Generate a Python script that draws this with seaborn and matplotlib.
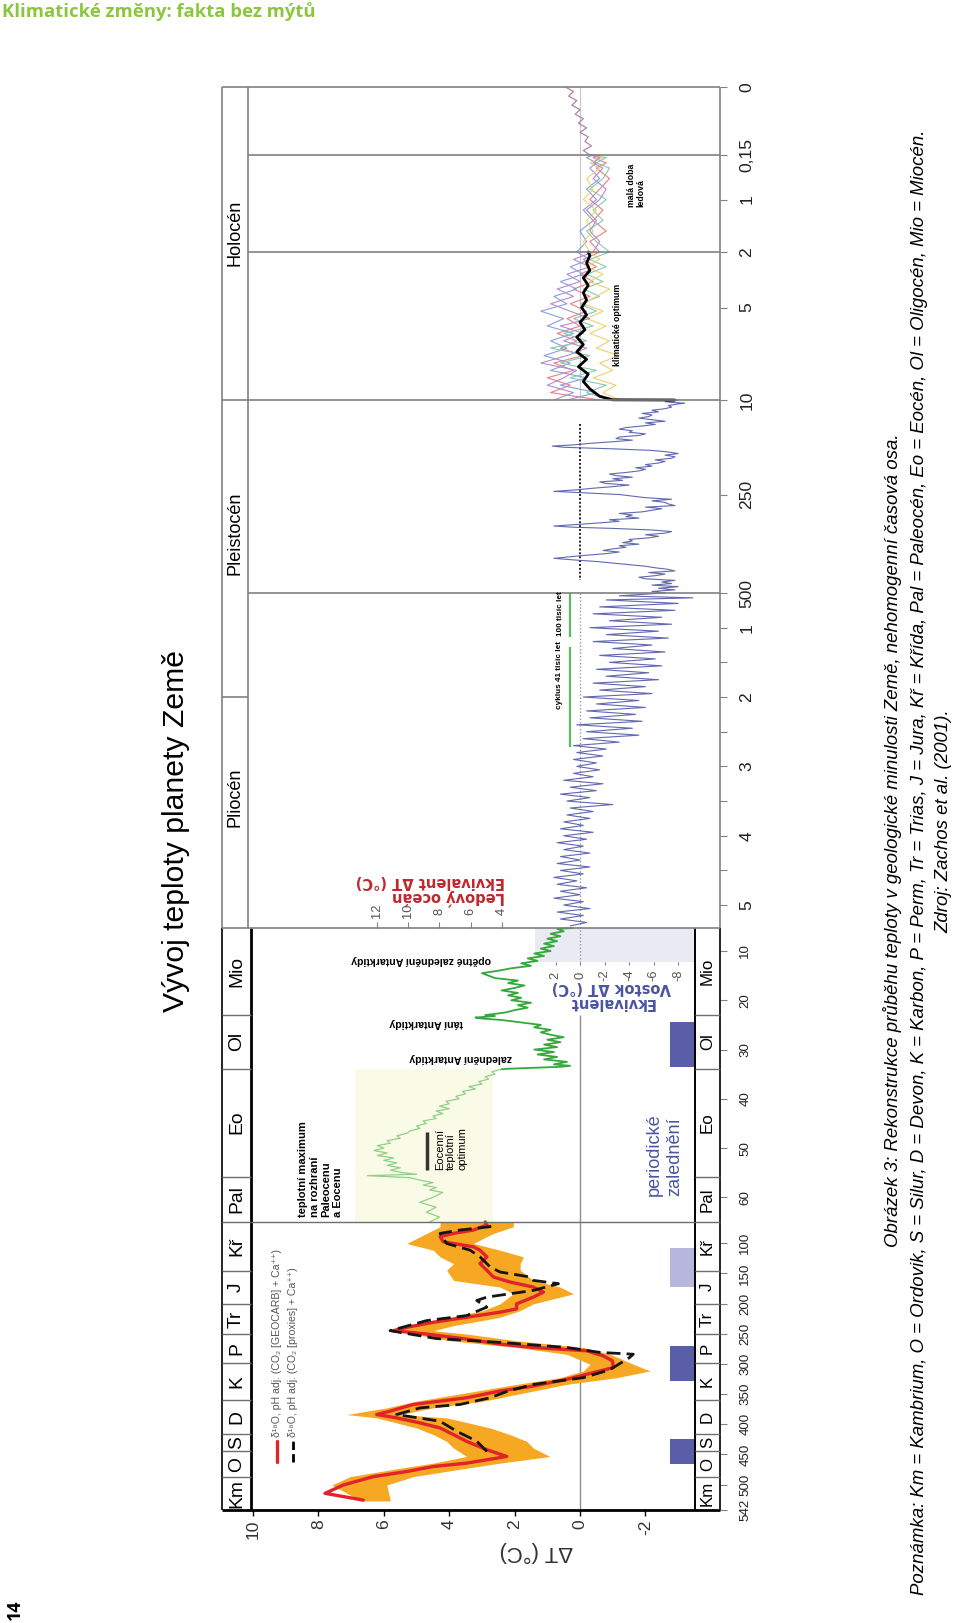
import numpy as np
import matplotlib
matplotlib.use("Agg")
import matplotlib.pyplot as plt
import seaborn as sns
from matplotlib import font_manager

sns.set_theme(style="white")
plt.rcParams["font.family"] = ["Liberation Sans", "DejaVu Sans"]

have = {f.name for f in font_manager.fontManager.ttflist}
if "Liberation Sans Narrow" in have:
    NARROW, K = ["Liberation Sans Narrow", "DejaVu Sans"], 1.0
else:
    NARROW, K = ["Liberation Sans", "DejaVu Sans"], 0.84

# time axis is not homogeneous: age (Ma) -> row of the page
age_breaks = [0, 0.00015, 0.002, 0.010, 0.5, 5.33, 65, 542]
row_breaks = [87, 155, 252, 400, 593, 928, 1222, 1510]

# Phanerozoic (Ma) -- red line (GEOCARB), black dashed (proxies), orange band
phan_age = [525.6, 514.4, 500.6, 486.7, 478.3, 470.0, 464.4, 453.3, 442.2, 428.3,
            417.2, 406.1, 397.8, 389.4, 383.9, 378.3, 367.2, 361.7, 356.1, 345.0,
            336.7, 325.6, 314.4, 306.1, 295.0, 286.7, 278.3, 272.8, 267.2, 258.9,
            250.6, 245.0, 239.4, 231.1, 222.8, 214.4, 208.9, 200.6, 189.4, 181.1,
            172.8, 164.4, 156.1, 145.0, 133.9, 122.8, 111.7, 106.1, 100.6, 97.8,
            89.4, 83.9, 78.3, 70.0, 65.0]
geocarb = [6.63, 7.80, 7.24, 6.32, 5.30, 4.49, 3.47, 2.24, 2.85, 3.47,
           3.87, 4.28, 4.89, 5.61, 6.22, 5.81, 5.10, 4.28, 3.47, 2.45,
           1.43, 0.41, -0.41, -1.02, -0.99, -0.71, -0.20, 1.43, 2.45, 3.47,
           4.69, 5.71, 5.30, 4.49, 3.47, 2.45, 1.94, 1.94, 1.43, 1.12,
           1.43, 2.14, 2.65, 2.85, 3.06, 2.85, 3.06, 3.26, 3.87, 4.18,
           4.28, 3.87, 3.26, 2.85, 2.90]

prox_age = [445, 428, 411.7, 395, 383.9, 372.8, 367.2, 356.1, 345, 334,
            322.8, 310, 300, 290, 284, 281, 272.8, 264.4, 258, 245,
            228.3, 220, 206, 195, 189.4, 178.3, 167.2, 161.7, 156.1, 147.8,
            139.4, 122.8, 111.7, 100.6, 83.9, 78.3, 72.8, 65]
proxies = [2.85, 3.16, 3.77, 4.28, 5.61, 4.89, 3.67, 2.75, 2.20, 1.43,
           -0.10, -0.90, -1.20, -1.50, -1.63, -0.61, 0.41, 2.45, 4.40, 5.81,
           4.69, 3.47, 2.85, 3.16, 2.85, 1.43, 0.66, 1.43, 1.53, 2.45,
           2.75, 3.06, 3.36, 4.08, 4.28, 3.67, 2.75, 2.85]

band_age = [527, 500.6, 486.7, 472.8, 464.4, 453.3, 439.4, 428.3, 417.2, 406.1,
            389.4, 383.9, 372.8, 361.7, 345, 333.9, 322.8, 311.7, 300.6, 284,
            272.8, 261.7, 250.6, 245, 236.7, 222.8, 211.7, 200.6, 183.9, 172.8,
            161.7, 145, 133.9, 122.8, 111.7, 100.6, 92.2, 83.9, 72.8, 65]
band_warm = [6.70, 7.59, 7.03, 5.50, 4.49, 3.47, 3.87, 4.08, 4.49, 5.00,
             6.22, 7.13, 5.91, 5.00, 3.16, 1.94, 0.61, -0.10, -0.31, 0.41,
             1.94, 3.98, 5.10, 5.61, 5.30, 3.98, 2.96, 2.45, 2.04, 2.45,
             3.87, 4.08, 3.87, 4.28, 4.49, 5.30, 5.00, 4.69, 4.28, 4.28]
band_cold = [5.80, 5.91, 5.10, 3.47, 2.45, 0.92, 1.43, 1.63, 2.14, 2.75,
             4.08, 5.50, 4.49, 2.96, 1.43, 0.41, -1.12, -2.14, -1.63, -0.92,
             -0.10, 1.94, 3.47, 4.49, 3.87, 2.45, 1.83, 1.43, 0.20, 0.61,
             1.43, 1.83, 1.83, 1.73, 2.45, 3.26, 2.96, 2.65, 2.04, 2.04]

# Cenozoic deep-sea record (Ma)
paleo_age = [65.0, 64.0, 63.0, 62.0, 61.0, 60.0, 59.0, 58.5, 58.0, 57.5,
             57.0, 56.5, 56.0, 55.6, 55.3, 55.0, 54.5, 54.0, 53.5, 53.0,
             52.5, 52.0, 51.5, 51.0, 50.5, 50.0, 49.5, 49.0, 48.5, 48.0,
             47.5, 47.0, 46.5, 46.0, 45.5, 45.0, 44.5, 44.0, 43.5, 43.0,
             42.5, 42.0, 41.5, 41.0, 40.5, 40.0, 39.5, 39.0, 38.5, 38.0,
             37.5, 37.0, 36.5, 36.0, 35.5, 35.0, 34.5, 34.0]
paleo_dT = [4.6, 4.3, 4.7, 4.4, 4.9, 4.5, 4.2, 4.6, 4.4, 4.8,
            4.5, 4.9, 5.2, 6.5, 5.0, 5.4, 5.8, 5.5, 5.9, 5.6,
            6.0, 5.7, 6.2, 5.9, 6.3, 6.0, 6.2, 5.8, 5.9, 5.5,
            5.6, 5.3, 5.2, 4.9, 5.0, 4.7, 4.8, 4.4, 4.5, 4.2,
            4.4, 4.0, 4.3, 4.0, 4.1, 3.7, 3.8, 3.5, 3.6, 3.2,
            3.4, 3.0, 3.1, 2.8, 2.9, 2.6, 2.7, 2.4]
neo_age = [34.0, 33.9, 33.7, 33.5, 33.3, 33.0, 32.5, 32.0, 31.5, 31.0,
           30.5, 30.0, 29.5, 29.0, 28.5, 28.0, 27.5, 27.0, 26.5, 26.0,
           25.5, 25.0, 24.5, 24.0, 23.7, 23.5, 23.2, 23.0, 22.5, 22.0,
           21.5, 21.0, 20.5, 20.0, 19.5, 19.0, 18.5, 18.0, 17.5, 17.0,
           16.5, 16.0, 15.5, 15.0, 14.5, 14.0, 13.5, 13.0, 12.5, 12.0,
           11.5, 11.0, 10.5, 10.0, 9.5, 9.0, 8.5, 8.0, 7.5, 7.0,
           6.5, 6.0, 5.5, 5.33]
neo_dT = [2.4, 2.2, 1.4, 0.6, 0.3, 0.8, 0.4, 1.1, 0.7, 1.3,
          0.8, 1.4, 0.7, 1.1, 0.6, 1.0, 0.5, 0.9, 1.2, 0.9,
          1.4, 1.2, 1.8, 2.4, 3.0, 3.2, 2.6, 2.9, 2.3, 2.0,
          1.6, 1.9, 1.5, 2.1, 1.8, 2.2, 1.9, 2.4, 2.0, 1.7,
          2.2, 1.9, 2.6, 2.8, 3.0, 2.5, 2.1, 1.5, 1.8, 1.3,
          1.6, 1.1, 1.4, 0.9, 1.2, 0.8, 1.1, 0.7, 1.0, 0.6,
          0.9, 0.5, 0.7, 0.2]

# Pliocene - early Pleistocene (Ma)
plio_age = [5.30, 5.25, 5.20, 5.15, 5.10, 5.05, 5.00, 4.95, 4.90, 4.85,
            4.80, 4.75, 4.70, 4.65, 4.60, 4.55, 4.50, 4.45, 4.40, 4.35,
            4.30, 4.25, 4.20, 4.15, 4.10, 4.05, 4.00, 3.95, 3.90, 3.85,
            3.80, 3.75, 3.70, 3.65, 3.60, 3.55, 3.50, 3.45, 3.40, 3.35,
            3.30, 3.25, 3.20, 3.15, 3.10, 3.05, 3.00, 2.95, 2.90, 2.85,
            2.80, 2.75, 2.70, 2.65, 2.60, 2.55, 2.50, 2.45, 2.40, 2.35,
            2.30, 2.25, 2.20, 2.15, 2.10, 2.05, 2.00, 1.95, 1.90, 1.85,
            1.80, 1.75, 1.70, 1.65, 1.60, 1.55, 1.50, 1.45, 1.40, 1.35,
            1.30, 1.25, 1.20, 1.15, 1.10, 1.05, 1.00, 0.95, 0.90, 0.85,
            0.80, 0.75, 0.70, 0.65, 0.60, 0.57, 0.54, 0.50]
plio_dT = [0.3, -0.2, 0.6, -0.1, 0.7, -0.3, 0.5, -0.1, 0.8, 0.0,
           0.6, -0.2, 0.7, 0.1, 0.8, -0.1, 0.6, -0.3, 0.7, 0.0,
           0.6, -0.3, 0.5, -0.1, 0.7, -0.2, 0.5, -0.4, 0.6, -0.1,
           0.5, -0.3, 0.4, -0.4, 0.3, -1.0, 0.4, -0.3, 0.6, -0.5,
           0.3, -0.7, 0.5, -0.4, 0.2, -0.6, 0.1, -0.5, 0.2, -0.7,
           0.1, -0.8, 0.2, -1.2, -0.1, -1.8, -0.2, -1.6, 0.1, -1.9,
           -0.3, -1.7, -0.2, -2.0, -0.5, -1.8, -0.1, -2.2, -0.6, -2.0,
           -0.4, -2.4, -0.8, -2.1, -0.5, -2.5, -0.9, -2.3, -0.6, -2.6,
           -1.0, -2.2, -0.4, -2.7, -0.8, -2.4, -0.3, -2.8, -0.9, -2.5,
           -0.4, -2.9, -0.6, -3.0, -0.8, -3.45, -1.2, -2.6]

# Vostok, last 500 thousand years (ka)
vostok_ka = [500, 496, 492, 488, 484, 480, 476, 472, 468, 464,
             460, 456, 452, 448, 444, 440, 436, 432, 428, 424,
             420, 416, 412, 408, 404, 400, 396, 392, 388, 384,
             380, 376, 372, 368, 364, 360, 356, 352, 348, 344,
             340, 336, 333, 330, 326, 322, 318, 314, 310, 306,
             302, 298, 294, 290, 286, 282, 278, 274, 270, 266,
             262, 258, 254, 250, 246, 242, 238, 234, 230, 226,
             222, 218, 214, 210, 206, 202, 198, 194, 190, 186,
             182, 178, 174, 170, 166, 162, 158, 154, 150, 146,
             142, 138, 134, 130, 127, 124, 120, 116, 112, 108,
             104, 100, 96, 92, 88, 84, 80, 76, 72, 68,
             64, 60, 56, 52, 48, 44, 40, 36, 32, 28,
             24, 20, 18, 16, 14, 12, 10]
vostok_dT = [-2.6, -2.2, -2.9, -2.4, -3.0, -2.2, -2.8, -2.5, -2.9, -2.0,
             -1.8, -2.3, -2.6, -2.1, -2.9, -2.7, -2.3, -2.0, -1.5, -1.0,
             -0.5, 0.2, 0.8, 0.3, -0.2, -0.8, -1.2, -0.7, -1.0, -1.4,
             -1.2, -1.8, -1.3, -1.6, -1.5, -2.1, -2.4, -2.0, -2.6, -2.8,
             -2.2, -1.0, 0.2, 0.8, 0.1, -0.6, -1.2, -0.9, -1.8, -1.4,
             -1.6, -1.2, -1.9, -2.2, -2.5, -2.0, -2.9, -2.7, -2.6, -2.2,
             -2.8, -2.0, -1.6, -1.2, -0.2, 0.8, 0.1, -0.4, -1.0, -1.5,
             -0.8, -0.6, -1.3, -1.0, -1.6, -1.1, -0.9, -1.4, -1.8, -2.0,
             -1.7, -2.2, -2.0, -2.4, -2.6, -2.3, -2.8, -2.9, -2.6, -3.0,
             -2.7, -2.2, -1.0, 0.5, 0.85, 0.2, -0.3, -1.0, -1.6, -1.1,
             -1.2, -1.8, -2.0, -1.5, -1.6, -1.2, -1.4, -1.9, -2.3, -2.0,
             -2.6, -2.2, -1.8, -2.1, -2.2, -1.9, -2.4, -2.2, -2.6, -2.8,
             -2.7, -3.0, -3.2, -2.8, -2.6, -2.9, -3.0]

# Holocene proxies (ka)
holo_ka = [10.0, 9.6, 9.2, 8.8, 8.4, 8.0, 7.6, 7.2, 6.8, 6.4,
           6.0, 5.6, 5.2, 4.8, 4.4, 4.0, 3.6, 3.2, 2.8, 2.4,
           2.0, 1.8, 1.6, 1.4, 1.2, 1.0, 0.8, 0.6, 0.4, 0.3, 0.2, 0.15]
holo_red = [-0.6, 0.9, 0.3, 1.0, 0.2, 0.8, -0.1, 0.6, 0.1, 0.7,
            0.0, 0.4, -0.2, 0.3, -0.3, 0.2, -0.4, 0.0, -0.5, -0.1,
            -0.6, -0.3, -0.8, -0.4, -0.7, -0.3, -0.6, -0.9, -0.5, -0.8, -0.4, -0.6]
holo_blue = [0.4, -0.5, 0.6, -0.2, 0.9, 0.3, 1.1, 0.4, 0.9, 0.2,
             1.0, 0.5, 1.2, 0.4, 0.8, 0.1, 0.6, -0.1, 0.3, -0.3,
             0.1, -0.2, 0.0, -0.4, -0.1, -0.5, -0.2, -0.6, -0.3, -0.5, -0.2, -0.4]
holo_green = [-0.9, -0.2, -0.8, 0.3, -0.5, 0.6, -0.3, 0.9, -0.2, 0.5,
              -0.4, 0.2, -0.5, 0.0, -0.6, -0.1, -0.7, -0.2, -0.8, -0.3,
              -0.9, -0.5, -0.2, -0.7, -0.4, -0.8, -0.3, -0.7, -0.9, -0.5, -0.8, -0.3]
holo_yellow = [-1.2, -0.7, -1.1, -0.4, -1.0, -0.6, -1.2, -0.5, -0.9, -0.3,
               -0.8, -0.2, -0.7, -0.1, -0.5, -0.9, -0.3, -0.7, -0.2, -0.6,
               -0.3, -0.1, -0.4, -0.2, -0.5, -0.1, -0.4, -0.2, -0.6, -0.3, -0.7, -0.5]
holo_purple = [0.8, 0.2, 1.0, 0.5, 0.1, 1.2, 0.4, -0.2, 0.5, -0.1,
               0.6, -0.3, 0.3, 0.9, 0.2, 0.7, 0.0, 0.4, -0.3, 0.2,
               -0.4, -0.6, -0.3, -0.5, -0.2, -0.6, -0.8, -0.4, -0.7, -0.4, -0.6, -0.3]
holo_mean_ka = [10.0, 9.99, 9.8, 9.4, 9.0, 8.6, 8.2, 7.8, 7.4, 7.0,
                6.6, 6.2, 5.8, 5.4, 5.0, 4.6, 4.2, 3.8, 3.4, 3.0,
                2.6, 2.2, 2.0]
holo_mean = [-2.9, -1.0, -0.6, -0.3, -0.1, -0.25, 0.05, -0.2, 0.1, -0.1,
             0.1, -0.15, 0.0, -0.2, -0.05, -0.2, -0.1, -0.25, -0.1, -0.3,
             -0.2, -0.3, -0.25]
recent_ka = [0.150, 0.140, 0.130, 0.120, 0.110, 0.100, 0.090, 0.080,
             0.070, 0.060, 0.050, 0.040, 0.030, 0.020, 0.010, 0.0]
recent_dT = [-0.3, -0.1, -0.35, -0.15, -0.25, 0.0, -0.2, 0.05,
             -0.1, 0.15, 0.0, 0.25, 0.1, 0.35, 0.2, 0.45]

# geological column
periods = ["Km", "O", "S", "D", "K", "P", "Tr", "J", "Kř", "Pal", "Eo", "Ol", "Mio"]
period_bounds = [542, 488, 444, 416, 359, 299, 251, 200, 146, 65, 55.8, 33.9, 23, 5.33]
epochs = ["Pliocén", "Pleistocén", "Holocén"]

# periodic glaciations (Ma)
glac_old = [465, 328, 173, 33.5]
glac_young = [425, 270, 108, 24.5]
glac_light = [False, False, True, False]

# secondary scales
ocean_ticks = [12, 10, 8, 6, 4]
vostok_ticks = [2, 0, -2, -4, -6, -8]

dT_ticks = [10, 8, 6, 4, 2, 0, -2]
age_ticks = [542, 500, 450, 400, 350, 300, 250, 200, 150, 100,
             60, 50, 40, 30, 20, 10,
             5, 4, 3, 2, 1, 0.5, 0.25, 0.010, 0.005, 0.002, 0.001, 0.00015, 0]
age_labels = ["542", "500", "450", "400", "350", "300", "250", "200", "150", "100",
              "60", "50", "40", "30", "20", "10",
              "5", "4", "3", "2", "1", "500", "250", "10", "5", "2", "1", "0,15", "0"]

RED, ORANGE, BLUE, GRAY = "#e2232a", "#f7a823", "#5058a8", "#808080"
GREEN_L, GREEN_D, BAR, BAR_L = "#8fd18a", "#35a83a", "#5a5ea9", "#b7b7de"


def fwd(t):
    return np.interp(t, age_breaks, row_breaks)


def inv(r):
    return np.interp(r, row_breaks, age_breaks)


def page(px, py):
    # page pixel -> (dT, age) for placing annotations
    return (580 - px) / 32.7, float(inv(py))


fig = plt.figure(figsize=(9.6, 16.23), dpi=100)
ax = fig.add_axes([222 / 960, 1 - 1510 / 1623, 498 / 960, 1423 / 1623])

LEFT, COL, COLU, RCOL, RIGHT = 10.95, 10.06, 10.15, -3.52, -4.28

# background boxes
ax.fill_betweenx([34, 65], 6.88, 2.66, color="#fafbe6", lw=0, zorder=0)
ax.fill_betweenx([5.33, 12.3], 1.38, RCOL, color="#e9eaf3", lw=0, zorder=0)

# zero lines
ax.vlines(0, 23, 542, color="#8c8c8c", lw=1.0, zorder=1)
ax.vlines(0, 0, 0.010, color="#c8c8c8", lw=0.8, zorder=1)
ax.vlines(0, 0.5, 12.3, color="#9a9a9a", lw=1.0, ls=(0, (1, 1.5)), zorder=1)
ax.vlines(0, 0.070, 0.467, color="#222222", lw=1.4, ls=(0, (1, 1)), zorder=1)

# Phanerozoic
ax.fill_betweenx(band_age, band_warm, band_cold, color=ORANGE, lw=0, zorder=2)
sns.lineplot(x=geocarb, y=phan_age, orient="y", sort=False, estimator=None,
             color=RED, lw=2.4, ax=ax, legend=False, zorder=3)
sns.lineplot(x=proxies, y=prox_age, orient="y", sort=False, estimator=None,
             color="#151515", lw=2.0, ls=(0, (5, 2.2)), ax=ax, legend=False, zorder=4)

# Cenozoic
sns.lineplot(x=paleo_dT, y=paleo_age, orient="y", sort=False, estimator=None,
             color=GREEN_L, lw=0.9, ax=ax, legend=False, zorder=3)
sns.lineplot(x=neo_dT, y=neo_age, orient="y", sort=False, estimator=None,
             color=GREEN_D, lw=1.3, ax=ax, legend=False, zorder=3)

# Plio-Pleistocene
sns.lineplot(x=plio_dT, y=plio_age, orient="y", sort=False, estimator=None,
             color=BLUE, lw=0.8, alpha=0.9, ax=ax, legend=False, zorder=3)
sns.lineplot(x=vostok_dT, y=np.array(vostok_ka) / 1000, orient="y", sort=False,
             estimator=None, color=BLUE, lw=0.8, alpha=0.9, ax=ax, legend=False, zorder=3)

# Holocene
holo_age = np.array(holo_ka) / 1000
for vals, c in [(holo_red, "#ee7c84"), (holo_blue, "#8a9ee0"), (holo_green, "#84ccb0"),
                (holo_yellow, "#f0d070"), (holo_purple, "#b08ccc")]:
    sns.lineplot(x=vals, y=holo_age, orient="y", sort=False, estimator=None,
                 color=c, lw=0.8, ax=ax, legend=False, zorder=3)
sns.lineplot(x=recent_dT, y=np.array(recent_ka) / 1000, orient="y", sort=False,
             estimator=None, color="#b084a8", lw=0.9, ax=ax, legend=False, zorder=3)
sns.lineplot(x=holo_mean, y=np.array(holo_mean_ka) / 1000, orient="y", sort=False,
             estimator=None, color="black", lw=2.0, ax=ax, legend=False, zorder=4)

# orbital cycles markers
ax.vlines(0.31, 1.28, 2.72, color="#5cb85c", lw=1.6, zorder=3)
ax.vlines(0.31, 0.5, 1.14, color="#5cb85c", lw=1.6, zorder=3)

# glaciations
for old, young, light in zip(glac_old, glac_young, glac_light):
    ax.fill_betweenx([young, old], -2.75, RCOL, color=BAR_L if light else BAR, lw=0, zorder=2)

# frame
fr = dict(clip_on=False, zorder=5)
ax.vlines([LEFT, RIGHT], 5.33, 542, color="black", lw=1.2, **fr)
ax.vlines(COL, 5.33, 542, color="black", lw=2.0, **fr)
ax.vlines(RCOL, 5.33, 542, color="black", lw=1.4, **fr)
ax.vlines([LEFT, COLU, RIGHT], 0, 5.33, color=GRAY, lw=1.2, **fr)
ax.hlines(542, LEFT, RIGHT, color="black", lw=2.0, **fr)
ax.hlines([5.33, 0.010, 0], LEFT, RIGHT, color=GRAY, lw=1.2, **fr)
ax.hlines(65, COL, RCOL, color="#6e6e6e", lw=1.0, **fr)
ax.hlines([0.5, 0.002, 0.00015], COLU, RIGHT, color=GRAY, lw=1.2, **fr)
ax.hlines(2.0, LEFT, COLU, color=GRAY, lw=1.2, **fr)
ax.hlines(period_bounds[1:-1], LEFT, COL, color="#6e6e6e", lw=1.0, **fr)
ax.hlines(period_bounds[1:-1], RCOL, RIGHT, color="#6e6e6e", lw=1.0, **fr)

# column labels
for name, a, b in zip(periods, period_bounds[:-1], period_bounds[1:]):
    mid = float(inv((fwd(a) + fwd(b)) / 2))
    ax.text((LEFT + COL) / 2, mid, name, rotation=90, ha="center", va="center",
            fontsize=16.5 * K, family=NARROW, color="black", zorder=6)
    ax.text((RCOL + RIGHT) / 2, mid, name, rotation=90, ha="center", va="center",
            fontsize=14.5 * K, family=NARROW, color="black", zorder=6)
for name, r in zip(epochs, [797, 533, 233]):
    ax.text((LEFT + COLU) / 2, float(inv(r)), name, rotation=90, ha="center", va="center",
            fontsize=15.5 * K, family=NARROW, color="black", zorder=6)

# secondary scales
for v in ocean_ticks:
    x = 0.4775 * v + 0.48
    ax.text(x, page(0, 911)[1], str(v), rotation=90, ha="center", va="center",
            fontsize=11 * K, family=NARROW, color="#555555")
    ax.vlines(x, 5.25, 5.33, color=GRAY, lw=0.8)
for v in vostok_ticks:
    x = 0.375 * v
    ax.text(x, page(0, 975)[1], str(v), rotation=90, ha="center", va="center",
            fontsize=11 * K, family=NARROW, color="#555555")
    ax.vlines(x, 12.3, 12.8, color=GRAY, lw=0.8)

txt = dict(family=NARROW, color="black", zorder=6)
ax.text(*page(430, 890), "Ledový oceán\nEkvivalent ΔT (°C)", rotation=180, ha="center",
        va="center", multialignment="left", fontsize=10.5, weight="bold",
        family=["DejaVu Sans"], color="#c1272d", linespacing=1.0)
ax.text(*page(611, 995), "Ekvivalent\nVostok ΔT (°C)", rotation=180, ha="center",
        va="center", multialignment="center", fontsize=10.5, weight="bold",
        family=["DejaVu Sans"], color="#4a55a2", linespacing=1.0)

ax.text(*page(461, 1058), "zalednění Antarktidy", rotation=180, ha="center", va="center",
        fontsize=9 * K, weight="bold", **txt)
ax.text(*page(426, 1023), "tání Antarktidy", rotation=180, ha="center", va="center",
        fontsize=9 * K, weight="bold", **txt)
ax.text(*page(421, 960), "opětné zalednění Antarktidy", rotation=180, ha="center",
        va="center", fontsize=9 * K, weight="bold", **txt)
ax.text(*page(298, 1217), "teplotní maximum\nna rozhraní\nPaleocenu\na Eocenu", rotation=90,
        ha="left", va="bottom", multialignment="left", fontsize=9.5 * K, weight="bold",
        linespacing=1.2, **txt)
ax.text(*page(435, 1170), "Eocenní\nteplotní\noptimum", rotation=90, ha="left", va="bottom",
        multialignment="left", fontsize=9.5 * K, linespacing=1.15, **txt)
ax.vlines(page(427, 0)[0], page(0, 1132)[1], page(0, 1170)[1], color="#333333", lw=2.5)
ax.text(*page(646, 1196), "periodické\nzalednění", rotation=90, ha="left", va="bottom",
        multialignment="left", fontsize=15.5 * K, family=NARROW, color="#4a55a2",
        linespacing=1.25)
ax.text(*page(559, 675), "cyklus 41 tisíc let", rotation=90, ha="center", va="center",
        fontsize=7 * K, weight="bold", **txt)
ax.text(*page(560, 614), "100 tisíc let", rotation=90, ha="center", va="center",
        fontsize=7 * K, weight="bold", **txt)
ax.text(*page(617, 325), "klimatické optimum", rotation=90, ha="center", va="center",
        fontsize=7.5 * K, weight="bold", **txt)
ax.text(*page(627, 207), "malá doba\nledová", rotation=90, ha="left", va="bottom",
        multialignment="left", fontsize=7.5 * K, weight="bold", linespacing=1.0, **txt)

# legend of the Phanerozoic curves
kx1, kt1 = page(277, 1462)
kx2, kt2 = page(293, 1441)
ax.plot([kx1, kx1], [kt1, kt2], color=RED, lw=2.4)
ax.plot([kx2, kx2], [kt1, kt2], color="black", lw=2.0, ls=(0, (3, 1.5)))
ax.text(kx1, page(0, 1437)[1], "δ¹⁸O, pH adj. (CO₂ [GEOCARB] + Ca⁺⁺)", rotation=90,
        ha="center", va="bottom", fontsize=9 * K, family=NARROW, color="#555555")
ax.text(kx2, page(0, 1437)[1], "δ¹⁸O, pH adj. (CO₂ [proxies] + Ca⁺⁺)", rotation=90,
        ha="center", va="bottom", fontsize=9 * K, family=NARROW, color="#555555")

# axes, scales, ticks
ax.set_yscale("function", functions=(fwd, inv))
ax.set_ylim(542, 0)
ax.set_xlim(LEFT, RIGHT)
for s in ax.spines.values():
    s.set_visible(False)
ax.grid(False)
ax.set_xlabel("")
ax.set_ylabel("")

ax.set_xticks(dT_ticks)
ax.set_xticklabels([str(v) for v in dT_ticks], rotation=90, family=NARROW,
                   fontsize=15 * K, color="#333333")
ax.tick_params(axis="x", bottom=True, direction="out", length=4, width=1,
               color="black", pad=3)

ax.yaxis.tick_right()
ax.set_yticks(age_ticks)
ax.set_yticks([1.5, 2.5, 3.5, 4.5], minor=True)
ax.set_yticklabels(age_labels, rotation=90, va="center", ha="left", family=NARROW)
for lab, v in zip(ax.get_yticklabels(), age_ticks):
    if v >= 10:
        lab.set_fontsize(11.5 * K)
    else:
        lab.set_fontsize(15 * K)
    lab.set_color("#222222")
ax.tick_params(axis="y", which="both", right=True, left=False, direction="out",
               length=5, width=0.8, color=GRAY, pad=9)

# page texts
fig.text(536 / 960, 1 - 1552 / 1623, "ΔT (°C)", rotation=180, ha="center", va="center",
         fontsize=19 * K, family=NARROW, color="#333333")
fig.text(176 / 960, 1 - 831 / 1623, "Vývoj teploty planety Země", rotation=90,
         ha="center", va="center", fontsize=21.7, color="black")
fig.text(2 / 960, 1 - 12 / 1623, "Klimatické změny: fakta bez mýtů", ha="left",
         va="center", fontsize=13.3, weight="bold", family=["Open Sans", "DejaVu Sans"],
         color="#8cc63e")
fig.text(15 / 960, 1 - 1610 / 1623, "14", rotation=90, ha="center", va="center",
         fontsize=13, weight="bold", family=["Open Sans", "DejaVu Sans"], color="black")

cap = dict(rotation=90, ha="center", va="center", style="italic", family=NARROW,
           fontsize=16 * K, color="black")
fig.text(893 / 960, 1 - 840 / 1623,
         "Obrázek 3: Rekonstrukce průběhu teploty v geologické minulosti Země, "
         "nehomogenní časová osa.", **cap)
fig.text(919 / 960, 1 - 862 / 1623,
         "Poznámka: Km = Kambrium, O = Ordovik, S = Silur, D = Devon, K = Karbon, "
         "P = Perm, Tr = Trias, J = Jura, Kř = Křída, Pal = Paleocén, Eo = Eocén, "
         "Ol = Oligocén, Mio = Miocén.", **cap)
fig.text(944 / 960, 1 - 821 / 1623, "Zdroj: Zachos et al. (2001).", **cap)

fig.savefig("out.png", dpi=100)
